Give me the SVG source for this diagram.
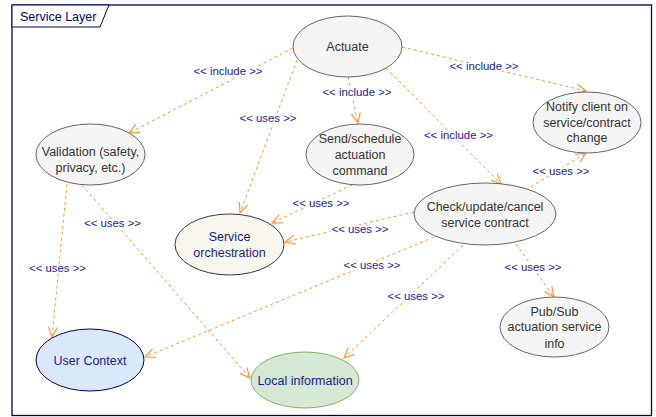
<svg xmlns="http://www.w3.org/2000/svg" width="656" height="417" viewBox="0 0 656 417">
<defs>
<style>
.frame{fill:#ffffff;stroke:#000066;stroke-width:1.3}
.tab{fill:#ffffff;stroke:#000066;stroke-width:1}
.title{font-family:"Liberation Sans",Arial,sans-serif;font-size:12.5px;fill:#000080}
.n ellipse{stroke-width:1}
.grey ellipse{fill:#f5f5f5;stroke:#666666}
.grey text{fill:#333333}
.nt{font-family:"Liberation Sans",Arial,sans-serif;font-size:12.5px;text-anchor:middle}
.blue text,.beige text,.green text{fill:#1a1a8a}
.edge{fill:none;stroke:#ff9933;stroke-width:1;stroke-dasharray:3 3;marker-end:url(#arr)}
.lbl{font-family:"Liberation Sans",Arial,sans-serif;font-size:11.4px;fill:#1a1aa6;text-anchor:middle;stroke:#ffffff;stroke-width:4;paint-order:stroke;stroke-linejoin:round}
</style>
<marker id="arr" viewBox="0 0 12 12" refX="11" refY="6" markerWidth="12" markerHeight="12" markerUnits="userSpaceOnUse" orient="auto">
<path d="M1,1.5 L11,6 L1,10.5" fill="none" stroke="#ff9933" stroke-width="1.2" stroke-dasharray="none"/>
</marker>
</defs>
<rect x="0" y="0" width="656" height="417" fill="#ffffff"/>
<g id="frame">
<rect class="frame" x="12" y="5" width="639.5" height="410.5"/>
<path class="tab" d="M12,5 H109 L100,27 H12 Z"/>
<text class="title" x="20" y="20.5">Service Layer</text>
</g>
<g id="connectors">
<path class="edge" d="M293,48 L129,133"/>
<path class="edge" d="M297,60 L240,213"/>
<path class="edge" d="M348,77 L358,123"/>
<path class="edge" d="M386,68 L501,184"/>
<path class="edge" d="M402,47 L586,91"/>
<path class="edge" d="M526,190 L586,153"/>
<path class="edge" d="M352,185 L272,223"/>
<path class="edge" d="M414,212 L285,242"/>
<path class="edge" d="M434,237 L145,357"/>
<path class="edge" d="M463,245 L344,358"/>
<path class="edge" d="M516,244 L554,297"/>
<path class="edge" d="M67,184 L52,337"/>
<path class="edge" d="M82,185 L250,378"/>
<text class="lbl" x="228" y="74.5">&lt;&lt; include &gt;&gt;</text>
<text class="lbl" x="268" y="122">&lt;&lt; uses &gt;&gt;</text>
<text class="lbl" x="357" y="95.5">&lt;&lt; include &gt;&gt;</text>
<text class="lbl" x="458.5" y="138.5">&lt;&lt; include &gt;&gt;</text>
<text class="lbl" x="484" y="69.5">&lt;&lt; include &gt;&gt;</text>
<text class="lbl" x="561" y="174.5">&lt;&lt; uses &gt;&gt;</text>
<text class="lbl" x="321" y="207">&lt;&lt; uses &gt;&gt;</text>
<text class="lbl" x="360" y="233">&lt;&lt; uses &gt;&gt;</text>
<text class="lbl" x="372" y="269">&lt;&lt; uses &gt;&gt;</text>
<text class="lbl" x="416" y="300">&lt;&lt; uses &gt;&gt;</text>
<text class="lbl" x="533" y="271">&lt;&lt; uses &gt;&gt;</text>
<text class="lbl" x="57.5" y="272">&lt;&lt; uses &gt;&gt;</text>
<text class="lbl" x="112.5" y="227">&lt;&lt; uses &gt;&gt;</text>
</g>
<g id="actuate" class="n grey">
<ellipse cx="347.5" cy="46.5" rx="54.5" ry="30.5"/>
<text class="nt" x="347.5" y="51">Actuate</text>
</g>
<g id="validation" class="n grey">
<ellipse cx="90.5" cy="154.5" rx="54.5" ry="30.5"/>
<text class="nt" x="90.5" y="155.5">Validation (safety,</text>
<text class="nt" x="90.5" y="172">privacy, etc.)</text>
</g>
<g id="send" class="n grey">
<ellipse cx="360" cy="154.5" rx="54" ry="30.5"/>
<text class="nt" x="360" y="142.5">Send/schedule</text>
<text class="nt" x="360" y="158.5">actuation</text>
<text class="nt" x="360" y="174.5">command</text>
</g>
<g id="notify" class="n grey">
<ellipse cx="587" cy="122.5" rx="54" ry="30.5"/>
<text class="nt" x="587" y="111">Notify client on</text>
<text class="nt" x="587" y="126.5">service/contract</text>
<text class="nt" x="587" y="142">change</text>
</g>
<g id="orchestration" class="n beige">
<ellipse cx="229.5" cy="244.5" rx="54.5" ry="30.5" fill="#f9f7ed" stroke="#36393d"/>
<text class="nt" x="229.5" y="240.5">Service</text>
<text class="nt" x="229.5" y="257">orchestration</text>
</g>
<g id="check" class="n grey">
<ellipse cx="485" cy="214" rx="71" ry="31"/>
<text class="nt" x="485" y="211">Check/update/cancel</text>
<text class="nt" x="485" y="227">service contract</text>
</g>
<g id="user-context" class="n blue">
<ellipse cx="90" cy="360" rx="54" ry="31" fill="#dae8fc" stroke="#000066"/>
<text class="nt" x="90" y="364.5">User Context</text>
</g>
<g id="local-information" class="n green">
<ellipse cx="305" cy="380" rx="54" ry="28" fill="#d5e8d4" stroke="#82b366"/>
<text class="nt" x="305" y="384.5">Local information</text>
</g>
<g id="pubsub" class="n grey">
<ellipse cx="554.5" cy="327" rx="54.5" ry="30"/>
<text class="nt" x="554.5" y="315.5">Pub/Sub</text>
<text class="nt" x="554.5" y="331">actuation service</text>
<text class="nt" x="554.5" y="347.5">info</text>
</g>
</svg>
